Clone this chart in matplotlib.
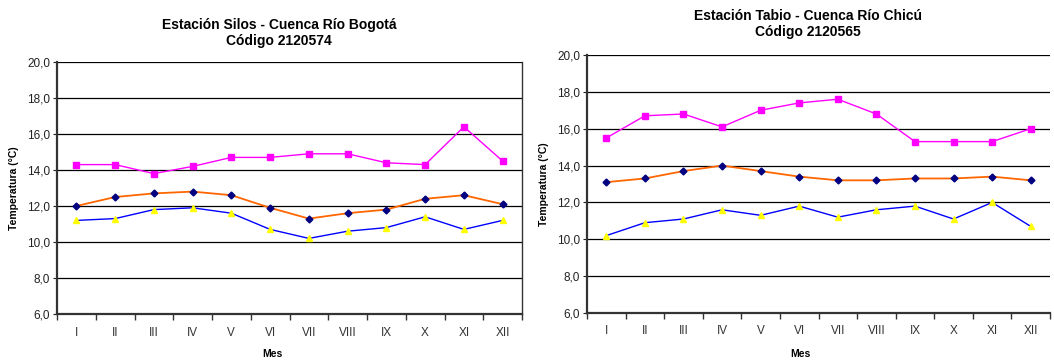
import matplotlib
matplotlib.use("Agg")
import matplotlib.pyplot as plt
import numpy as np

plt.rcParams['font.family'] = ['Liberation Sans', 'DejaVu Sans']

meses = ['I', 'II', 'III', 'IV', 'V', 'VI', 'VII', 'VIII', 'IX', 'X', 'XI', 'XII']

# Estacion Silos - Cuenca Rio Bogota
silos_max = [14.3, 14.3, 13.8, 14.2, 14.7, 14.7, 14.9, 14.9, 14.4, 14.3, 16.4, 14.5]
silos_med = [12.0, 12.5, 12.7, 12.8, 12.6, 11.9, 11.3, 11.6, 11.8, 12.4, 12.6, 12.1]
silos_min = [11.2, 11.3, 11.8, 11.9, 11.6, 10.7, 10.2, 10.6, 10.8, 11.4, 10.7, 11.2]

# Estacion Tabio - Cuenca Rio Chicu
tabio_max = [15.5, 16.7, 16.8, 16.1, 17.0, 17.4, 17.6, 16.8, 15.3, 15.3, 15.3, 16.0]
tabio_med = [13.1, 13.3, 13.7, 14.0, 13.7, 13.4, 13.2, 13.2, 13.3, 13.3, 13.4, 13.2]
tabio_min = [10.2, 10.9, 11.1, 11.6, 11.3, 11.8, 11.2, 11.6, 11.8, 11.1, 12.0, 10.7]

fig = plt.figure(figsize=(10.54, 3.6), dpi=100)
W, H = 1054.0, 360.0


def panel(box, tmax, tmed, tmin):
    x0, y0, x1, y1 = box
    ax = fig.add_axes([x0 / W, 1 - y1 / H, (x1 - x0) / W, (y1 - y0) / H])
    x = np.arange(len(meses))
    ax.plot(x, tmax, color='#FF00FF', lw=1.0, marker='s', ms=4.5,
            mfc='#FF00FF', mec='#FF00FF', zorder=3)
    ax.plot(x, tmed, color='#FF6600', lw=1.3, marker='D', ms=3.5,
            mfc='#000080', mec='#000080', zorder=3)
    ax.plot(x, tmin, color='#0000FF', lw=1.0, marker='^', ms=5,
            mfc='#FFFF00', mec='#FFFF00', zorder=3)
    ax.set_xlim(-0.5, len(meses) - 0.5)
    ax.set_ylim(6, 20)
    ax.set_yticks(np.arange(6, 21, 2))
    ax.yaxis.set_major_formatter(plt.FuncFormatter(lambda v, p: ('%.1f' % v).replace('.', ',')))
    ax.set_xticks(x)
    ax.set_xticklabels(meses)
    ax.set_xticks(np.arange(-0.5, len(meses), 1), minor=True)
    ax.tick_params(axis='x', which='major', length=0, pad=9, labelsize=8.5, colors='#333333')
    ax.tick_params(axis='x', which='minor', length=4, direction='out', width=1, color='#333333')
    ax.tick_params(axis='y', length=3, direction='out', labelsize=8.5, colors='#222222', pad=2)
    ax.grid(axis='y', color='black', lw=0.9)
    ax.set_axisbelow(True)
    for s in ['top', 'right']:
        ax.spines[s].set_visible(False)
    ax.spines['left'].set_linewidth(1.6)
    ax.spines['bottom'].set_linewidth(1.6)
    ax.spines['left'].set_color('#333333')
    ax.spines['bottom'].set_color('#333333')
    ax.set_ylabel('Temperatura (°C)', fontsize=7.5, fontweight='bold', labelpad=6)
    return ax


ax1 = panel((57, 62, 522, 314), silos_max, silos_med, silos_min)
ax2 = panel((587, 55, 1050, 313), tabio_max, tabio_med, tabio_min)
ax1.plot([11.5, 11.5], [6, 20], color='#333333', lw=1.0, clip_on=False)

fig.text(272 / W, 1 - 354 / H, 'Mes', ha='center', va='center', fontsize=7.5, fontweight='bold')
fig.text(800 / W, 1 - 354 / H, 'Mes', ha='center', va='center', fontsize=7.5, fontweight='bold')

fig.text(279 / W, 1 - 33 / H, 'Estación Silos - Cuenca Río Bogotá\nCódigo 2120574',
         ha='center', va='center', fontsize=10, fontweight='bold', linespacing=1.2)
fig.text(808 / W, 1 - 24 / H, 'Estación Tabio - Cuenca Río Chicú\nCódigo 2120565',
         ha='center', va='center', fontsize=10, fontweight='bold', linespacing=1.2)

fig.savefig('out.png', dpi=100)
